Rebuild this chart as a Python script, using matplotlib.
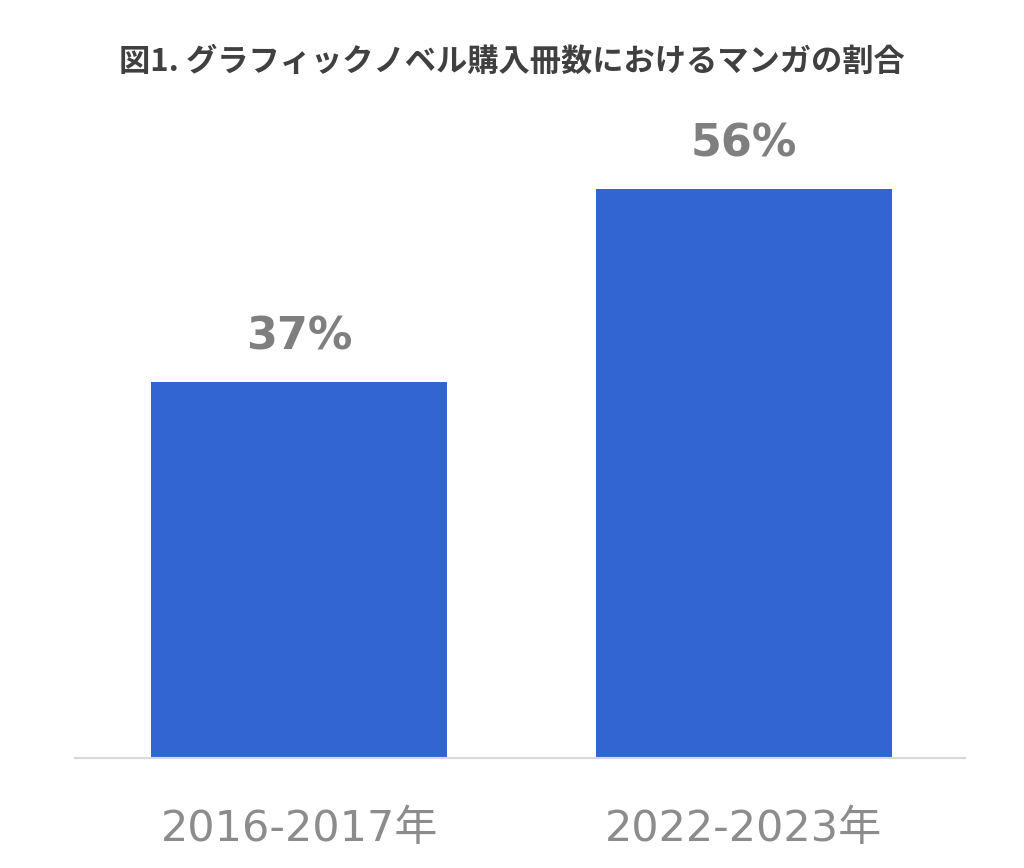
import matplotlib
matplotlib.use("Agg")
import matplotlib.pyplot as plt
import numpy as np

PERIODS = ["2016-2017年", "2022-2023年"]
MANGA_SHARE = [37, 56]
TITLE = "図1. グラフィックノベル購入冊数におけるマンガの割合"

BAR_COLOR = "#3264D2"
LABEL_GRAY = "#7F7F7F"
TICK_GRAY = "#8C8C8C"
TITLE_GRAY = "#404040"


def main() -> None:
    plt.rcParams["font.family"] = ["DejaVu Sans", "Noto Sans CJK JP"]

    fig = plt.figure(figsize=(10.24, 8.68), dpi=100)
    ax = fig.add_axes([0.0732, 0.1267, 0.8691, 0.758])

    x = np.arange(len(PERIODS))
    bars = ax.bar(x, MANGA_SHARE, width=0.666, color=BAR_COLOR, zorder=2)

    for bar, val in zip(bars, MANGA_SHARE):
        ax.annotate(
            f"{val}%",
            (bar.get_x() + bar.get_width() / 2, bar.get_height()),
            xytext=(0, 24),
            textcoords="offset points",
            ha="center",
            va="baseline",
            fontsize=32,
            fontweight="bold",
            color=LABEL_GRAY,
        )

    ax.set_xlim(-0.504, 1.498)
    ax.set_ylim(0, 64.8)
    ax.set_xticks(x)
    ax.set_xticklabels(PERIODS, fontsize=31, color=TICK_GRAY)
    ax.tick_params(axis="x", length=0, pad=36)
    ax.set_yticks([])
    for side in ["top", "right", "left"]:
        ax.spines[side].set_visible(False)
    ax.spines["bottom"].set_color("#D9D9D9")
    ax.spines["bottom"].set_linewidth(1.5)

    fig.text(
        0.5, 0.929, TITLE,
        ha="center", va="center",
        fontsize=22.5, fontweight="bold", color=TITLE_GRAY,
        family=["Noto Sans CJK JP", "DejaVu Sans"],
    )

    fig.savefig("out.png", dpi=100, facecolor="white")


if __name__ == "__main__":
    main()
